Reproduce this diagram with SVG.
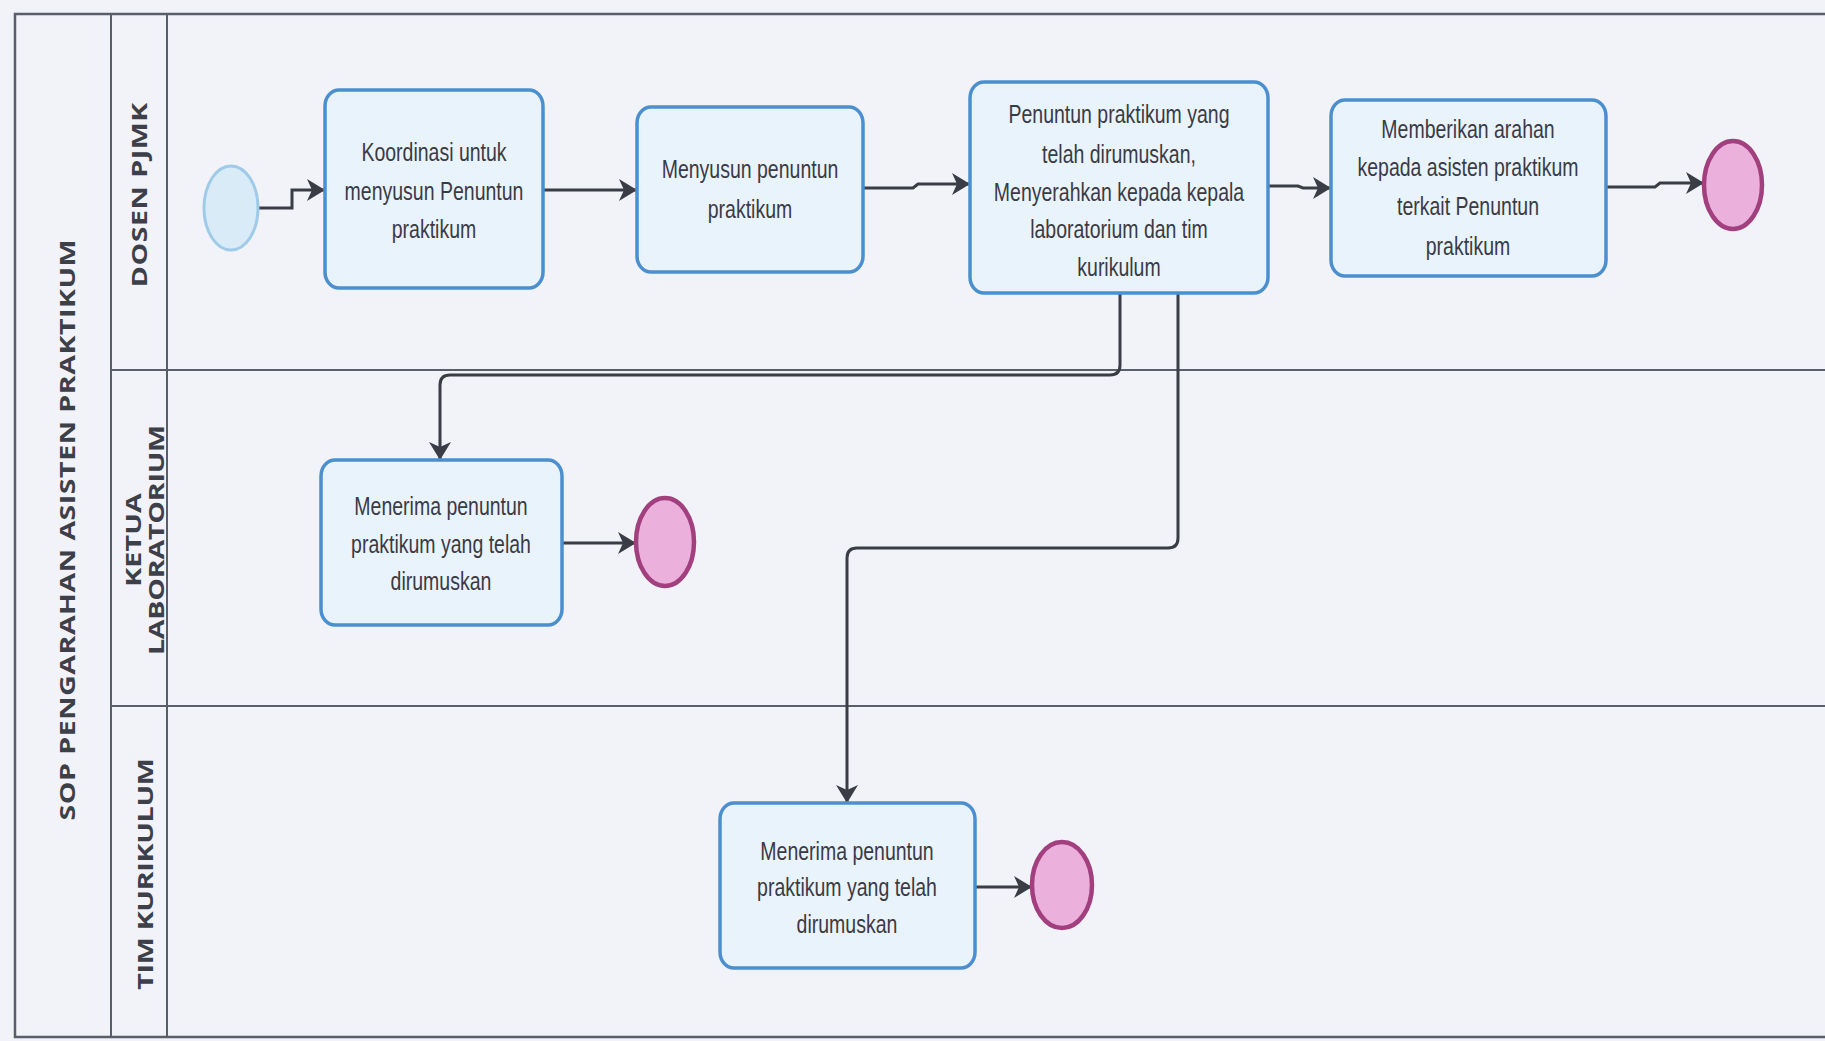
<svg xmlns="http://www.w3.org/2000/svg" width="1825" height="1041" viewBox="0 0 1825 1041">
<defs>
<style>
.bg{fill:#f1f3f9}
.frame{stroke:#5a5e6a;stroke-width:2.5;fill:none}
.lane{stroke:#5a5e6a;stroke-width:2;fill:none}
.task{fill:#e9f3fc;stroke:#4b8fcf;stroke-width:3.5}
.start{fill:#d9ebf7;stroke:#9fcbe8;stroke-width:3}
.end{fill:#ebb1dc;stroke:#a2407f;stroke-width:4.5}
.con{fill:none;stroke:#3a3d46;stroke-width:3;marker-end:url(#arr)}
.t{font-family:"Liberation Sans",Arial,sans-serif;font-size:19.5px;fill:#3a3b45;text-anchor:middle;dominant-baseline:central}
.lbl{font-family:"Open Sans","DejaVu Sans",sans-serif;font-weight:bold;font-size:22px;fill:#3e4049;text-anchor:middle;dominant-baseline:central}
</style>
<marker id="arr" markerUnits="userSpaceOnUse" markerWidth="20" markerHeight="22" refX="18" refY="11" orient="auto">
<path d="M0,0 L18,11 L0,22 L5,11 Z" fill="#3a3d46"/>
</marker>
</defs>
<rect class="bg" x="0" y="0" width="1825" height="1041"/>

<g id="pool">
<path class="frame" d="M1825,14 H15 V1037 H1825"/>
<line class="lane" x1="111" y1="14" x2="111" y2="1037"/>
<line class="lane" x1="167" y1="14" x2="167" y2="1037"/>
<line class="lane" x1="111" y1="370" x2="1825" y2="370"/>
<line class="lane" x1="111" y1="706" x2="1825" y2="706"/>
<g transform="translate(66,530) scale(1,1.3) rotate(-90)"><text class="lbl" x="0" y="0" textLength="447" lengthAdjust="spacing">SOP PENGARAHAN ASISTEN PRAKTIKUM</text></g>
</g>

<g id="lane-dosen">
<g transform="translate(138,195) scale(1,1.3) rotate(-90)"><text class="lbl" x="0" y="0" textLength="142" lengthAdjust="spacing">DOSEN PJMK</text></g>
</g>
<g id="lane-ketua">
<g transform="translate(132,540) scale(1,1.3) rotate(-90)"><text class="lbl" x="0" y="0" textLength="72" lengthAdjust="spacing">KETUA</text></g>
<g transform="translate(155,540) scale(1,1.3) rotate(-90)"><text class="lbl" x="0" y="0" textLength="177" lengthAdjust="spacing">LABORATORIUM</text></g>
</g>
<g id="lane-tim">
<g transform="translate(144,874) scale(1,1.3) rotate(-90)"><text class="lbl" x="0" y="0" textLength="178" lengthAdjust="spacing">TIM KURIKULUM</text></g>
</g>

<g id="connectors">
<path class="con" d="M258,208 H292 V190 H325"/>
<path class="con" d="M543,190 H637"/>
<path class="con" d="M863,188 H913 L918,184 H970"/>
<path class="con" d="M1268,186 H1298 L1303,188 H1331"/>
<path class="con" d="M1606,187 H1655 L1660,183 H1704"/>
<path class="con" d="M1120,293 V365 Q1120,375 1110,375 H450 Q440,375 440,385 V460"/>
<path class="con" d="M1178,293 V538 Q1178,548 1168,548 H857 Q847,548 847,558 V803"/>
<path class="con" d="M562,543 H636"/>
<path class="con" d="M975,887 H1032"/>
</g>

<g id="start">
<ellipse class="start" cx="231" cy="208" rx="27" ry="42"/>
</g>

<g id="task-koordinasi">
<rect class="task" x="325" y="90" width="218" height="198" rx="14" ry="16"/>
<g transform="translate(434,0) scale(1,1.3)">
<text class="t" x="0" y="117.7">Koordinasi untuk</text>
<text class="t" x="0" y="147.7">menyusun Penuntun</text>
<text class="t" x="0" y="176.9">praktikum</text>
</g>
</g>

<g id="task-menyusun">
<rect class="task" x="637" y="107" width="226" height="165" rx="14" ry="16"/>
<g transform="translate(750,0) scale(1,1.3)">
<text class="t" x="0" y="130.8">Menyusun penuntun</text>
<text class="t" x="0" y="161.5">praktikum</text>
</g>
</g>

<g id="task-menyerahkan">
<rect class="task" x="970" y="82" width="298" height="211" rx="14" ry="16"/>
<g transform="translate(1119,0) scale(1,1.3)">
<text class="t" x="0" y="88.5">Penuntun praktikum yang</text>
<text class="t" x="0" y="119.2">telah dirumuskan,</text>
<text class="t" x="0" y="148.5">Menyerahkan kepada kepala</text>
<text class="t" x="0" y="176.9">laboratorium dan tim</text>
<text class="t" x="0" y="206.2">kurikulum</text>
</g>
</g>

<g id="task-memberikan">
<rect class="task" x="1331" y="100" width="275" height="176" rx="14" ry="16"/>
<g transform="translate(1468,0) scale(1,1.3)">
<text class="t" x="0" y="100">Memberikan arahan</text>
<text class="t" x="0" y="129.2">kepada asisten praktikum</text>
<text class="t" x="0" y="159.2">terkait Penuntun</text>
<text class="t" x="0" y="190">praktikum</text>
</g>
</g>

<g id="end-dosen">
<ellipse class="end" cx="1733" cy="185" rx="29" ry="44"/>
</g>

<g id="task-menerima-lab">
<rect class="task" x="321" y="460" width="241" height="165" rx="14" ry="16"/>
<g transform="translate(441,0) scale(1,1.3)">
<text class="t" x="0" y="390">Menerima penuntun</text>
<text class="t" x="0" y="419.2">praktikum yang telah</text>
<text class="t" x="0" y="447.7">dirumuskan</text>
</g>
</g>

<g id="end-lab">
<ellipse class="end" cx="665" cy="542" rx="29" ry="44"/>
</g>

<g id="task-menerima-tim">
<rect class="task" x="720" y="803" width="255" height="165" rx="14" ry="16"/>
<g transform="translate(847,0) scale(1,1.3)">
<text class="t" x="0" y="655.4">Menerima penuntun</text>
<text class="t" x="0" y="683.1">praktikum yang telah</text>
<text class="t" x="0" y="711.5">dirumuskan</text>
</g>
</g>

<g id="end-tim">
<ellipse class="end" cx="1062" cy="885" rx="30" ry="43"/>
</g>
</svg>
